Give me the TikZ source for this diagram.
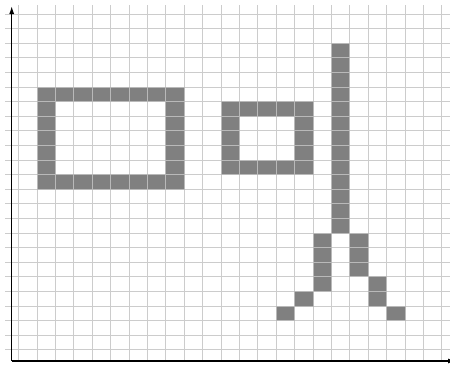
\documentclass[tikz,border=0pt]{standalone}
\usetikzlibrary{arrows.meta}
\begin{document}
\begin{tikzpicture}[x=1pt,y=-1pt,
  gridline/.style={draw=gray!40,line width=0.8pt},
  pixel/.style={fill=gray,draw=gray!55,line width=0.8pt},
  axis/.style={draw=black,line width=1.3pt}]
\useasboundingbox (0,0) rectangle (450,365);
\def\cx{18.4}\def\cy{14.6}\def\ox{37}\def\oy{14}
% grid
\foreach \k in {0,...,23} \draw[gridline] (5,{\oy+\cy*\k}) -- (450,{\oy+\cy*\k});
\foreach \k in {-1,...,22} \draw[gridline] ({\ox+\cx*\k},5) -- ({\ox+\cx*\k},361);
% pixels
\newcommand{\pix}[2]{\draw[pixel] ({\ox+\cx*(#1)},{\oy+\cy*(#2)}) rectangle ++(\cx,\cy);}
% left rectangle
\foreach \i in {0,...,7} {\pix{\i}{5}\pix{\i}{11}}
\foreach \j in {6,...,10} {\pix{0}{\j}\pix{7}{\j}}
% middle rectangle
\foreach \i in {10,...,14} {\pix{\i}{6}\pix{\i}{10}}
\foreach \j in {7,...,9} {\pix{10}{\j}\pix{14}{\j}}
% bar
\foreach \j in {2,...,14} {\pix{16}{\j}}
% legs
\foreach \j in {15,...,18} {\pix{15}{\j}}
\pix{14}{19}\pix{13}{20}
\foreach \j in {15,...,17} {\pix{17}{\j}}
\pix{18}{18}\pix{18}{19}\pix{19}{20}
% axes
\coordinate (O) at (11.7,361);
\coordinate (Ytop) at (11.7,6);
\coordinate (Xend) at (456,361);
\draw[axis,-{Latex[length=8pt,width=5pt]}] (O) -- (Ytop);
\draw[axis,-{Latex[length=8pt,width=5pt]}] (O) -- (Xend);
\end{tikzpicture}
\end{document}
